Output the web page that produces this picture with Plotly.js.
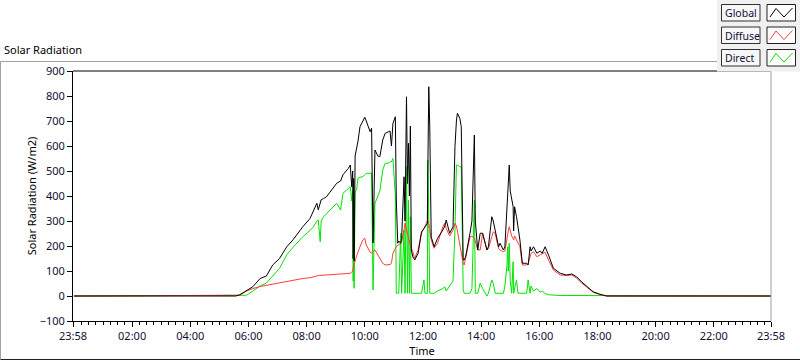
<!DOCTYPE html>
<html>
<head>
<meta charset="utf-8">
<script src="https://cdn.plot.ly/plotly-3.0.1.min.js"></script>
<style>
html,body{margin:0;padding:0;background:#fff;}
#chart{width:800px;height:361px;}
</style>
</head>
<body>
<div id="chart"></div>
<script>
// ---- data ----
var times = ["00:00","05:34","05:42","05:56","06:09","06:24","06:37","06:44","06:50","07:04","07:19","07:32","07:52","08:07","08:14","08:21","08:24","08:28","08:30","08:35","08:41","08:48","09:02","09:10","09:15","09:23","09:26","09:30","09:33","09:35","09:36","09:37","09:38","09:40","09:43","09:46","09:50","09:56","10:00","10:03","10:11","10:14","10:17","10:19","10:21","10:27","10:31","10:37","10:42","10:49","10:52","10:55","10:58","11:03","11:05","11:08","11:10","11:14","11:16","11:21","11:23","11:26","11:28","11:30","11:32","11:34","11:36","11:39","11:43","11:50","11:57","12:02","12:04","12:09","12:10","12:12","12:14","12:17","12:23","12:30","12:41","12:45","12:48","12:55","13:02","13:06","13:09","13:11","13:16","13:19","13:21","13:23","13:25","13:28","13:37","13:41","13:46","13:48","13:53","13:58","14:03","14:12","14:15","14:22","14:25","14:29","14:36","14:39","14:46","14:49","14:53","14:55","14:56","14:58","15:00","15:03","15:06","15:07","15:09","15:13","15:16","15:20","15:25","15:34","15:37","15:41","15:43","15:48","15:55","16:02","16:06","16:12","16:19","16:29","16:43","16:56","17:07","17:17","17:27","17:38","17:51","18:05","18:19","23:58"];

var globalRad = [0,0,5,22,37,70,80,104,124,150,197,225,277,310,340,371,345,380,385,390,397,415,451,460,485,504,510,524,437,500,150,470,140,560,584,620,677,700,715,700,657,671,212,400,584,560,557,624,651,657,660,600,690,717,384,211,220,211,230,477,300,797,450,611,400,680,184,157,144,171,257,270,277,290,500,837,677,237,197,230,264,280,304,251,277,597,700,731,711,677,400,144,144,157,251,300,644,300,184,251,251,184,197,317,300,264,197,211,184,197,344,400,450,524,420,390,357,260,357,317,280,224,131,131,124,197,180,197,171,180,171,197,164,111,91,84,88,77,57,37,17,7,0,0];

var diffuseRad = [0,0,3,20,30,38,43,46,48,52,58,63,70,73,75,80,82,82,82,83,85,85,87,88,89,90,90,91,95,100,110,120,130,140,160,180,197,225,231,204,175,171,180,182,184,165,151,131,124,124,126,131,171,190,197,204,204,210,215,264,291,264,250,230,217,200,190,177,151,184,251,270,277,300,304,290,270,224,191,211,277,291,270,240,264,291,280,260,200,171,150,131,124,150,237,240,230,220,184,184,251,184,190,237,257,250,190,184,177,180,237,250,260,277,260,240,230,224,240,224,211,197,124,124,130,164,170,177,157,165,168,175,144,104,84,82,84,71,53,35,15,6,0,0];

var directRad = [0,0,0,3,20,40,52,65,80,110,165,195,237,262,277,300,304,217,300,317,330,344,371,344,411,425,431,437,380,420,60,380,31,420,424,471,475,477,485,491,491,491,24,200,371,400,420,504,531,531,537,537,550,404,11,11,11,251,11,264,11,517,11,384,11,317,11,11,11,11,11,64,11,11,544,300,11,11,11,20,30,37,20,40,60,264,524,524,517,517,300,24,11,11,11,30,384,11,11,51,30,0,11,64,51,11,11,11,11,40,117,197,100,211,60,11,137,11,30,64,11,11,11,11,64,11,40,20,30,15,20,10,5,3,2,2,2,0,0,0,0,0,0,0];

var yTicks = [-100,0,100,200,300,400,500,600,700,800,900];
var xTickLabels = ["23:58","02:00","04:00","06:00","08:00","10:00","12:00","14:00","16:00","18:00","20:00","22:00","23:58"];
var seriesNames = ["Global","Diffuse","Direct"];
var seriesColors = ["#000000","#ff3c3c","#00e400"];

// ---- helpers ----
function toMin(t){ var p=t.split(":"); return (+p[0])*60 + (+p[1]); }
var xMin = times.map(toMin);
var xStart = -2, xEnd = 1438;
var xTickVals = [xStart,120,240,360,480,600,720,840,960,1080,1200,1320,xEnd];

// plot area geometry in pixels
var L=73, R=771, T=71, B=321, W=800, H=361;
function px(x){ return (x-L)/(R-L); }
function py(y){ return (B-y)/(B-T); }

var font = '"Noto Sans", "Open Sans", sans-serif';
var fs = 11;

var traces = [
  {x:xMin, y:directRad, name:seriesNames[2], type:'scatter', mode:'lines', line:{color:seriesColors[2], width:1}},
  {x:xMin, y:diffuseRad, name:seriesNames[1], type:'scatter', mode:'lines', line:{color:seriesColors[1], width:1}},
  {x:xMin, y:globalRad, name:seriesNames[0], type:'scatter', mode:'lines', line:{color:seriesColors[0], width:1}}
];

var shapes = [];
var annotations = [];
// outer frame
shapes.push({type:'line', xref:'paper', yref:'paper', x0:px(0.5), x1:px(717), y0:py(61.5), y1:py(61.5), line:{color:'#a0a0a0', width:1}});
shapes.push({type:'line', xref:'paper', yref:'paper', x0:px(0.5), x1:px(0.5), y0:py(61.5), y1:py(359.5), line:{color:'#a0a0a0', width:1}});
shapes.push({type:'line', xref:'paper', yref:'paper', x0:px(0.5), x1:px(800), y0:py(359.5), y1:py(359.5), line:{color:'#202020', width:1}});
// plot frame top and right
shapes.push({type:'line', xref:'paper', yref:'paper', x0:0, x1:1, y0:1, y1:1, line:{color:'#000', width:1}});
shapes.push({type:'line', xref:'paper', yref:'paper', x0:1, x1:1, y0:0, y1:1, line:{color:'#a0a0a0', width:1}});
// legend panel
shapes.push({type:'rect', xref:'paper', yref:'paper', x0:px(717), x1:px(800), y0:py(0), y1:py(71.5), fillcolor:'#f0f0f0', line:{width:0}});
var rowTops = [4.5, 27, 49.5];
for (var i=0;i<3;i++){
  var t=rowTops[i], b=t+16.5;
  shapes.push({type:'rect', xref:'paper', yref:'paper', x0:px(721.5), x1:px(760), y0:py(t), y1:py(b), fillcolor:'#f7f7f7', line:{color:'#303030', width:1}});
  shapes.push({type:'rect', xref:'paper', yref:'paper', x0:px(767), x1:px(795.5), y0:py(t), y1:py(b), fillcolor:'#ffffff', line:{color:'#202020', width:1}});
  var pts = [[770,b-4],[776,t+4],[784,b-4],[792.5,t+3.5]];
  var d = 'M '+pts.map(function(p){return px(p[0])+','+py(p[1]);}).join(' L ');
  shapes.push({type:'path', xref:'paper', yref:'paper', path:d, line:{color:seriesColors[i], width:1}});
  annotations.push({xref:'paper', yref:'paper', x:px(723), y:py(t+8.5), xanchor:'left', yanchor:'middle', text:seriesNames[i], showarrow:false, font:{family:font, size:10.5, color:'#101038'}});
}

var layout = {
  width:W, height:H,
  paper_bgcolor:'#ffffff', plot_bgcolor:'#ffffff',
  margin:{l:L, r:W-R, t:T, b:H-B, pad:0},
  showlegend:false,
  title:{text:'Solar Radiation', font:{family:font, size:fs, color:'#000000'}, xref:'container', yref:'container', x:4/W, xanchor:'left', y:1-50/H, yanchor:'middle'},
  xaxis:{
    range:[xStart,xEnd], tickmode:'array', tickvals:xTickVals, ticktext:xTickLabels,
    ticks:'outside', ticklen:5, tickwidth:1, tickcolor:'#000',
    showline:true, linecolor:'#000', linewidth:1, showgrid:false, zeroline:false,
    tickfont:{family:font, size:fs, color:'#101030'},
    minor:{tick0:0, dtick:15, ticks:'outside', ticklen:3, tickcolor:'#000', showgrid:false},
    title:{text:'Time', font:{family:font, size:fs, color:'#000000'}, standoff:3},
    automargin:false
  },
  yaxis:{
    range:[-100,900], tickmode:'array', tickvals:yTicks,
    ticks:'outside', ticklen:5, tickwidth:1, tickcolor:'#000',
    showline:true, linecolor:'#000', linewidth:1, showgrid:false, zeroline:false,
    tickfont:{family:font, size:fs, color:'#101030'},
    title:{text:'Solar Radiation (W/m2)', font:{family:font, size:fs, color:'#000000'}, standoff:0},
    automargin:false
  },
  shapes:shapes,
  annotations:annotations
};

Plotly.newPlot('chart', traces, layout, {staticPlot:true, displayModeBar:false});
</script>
</body>
</html>
